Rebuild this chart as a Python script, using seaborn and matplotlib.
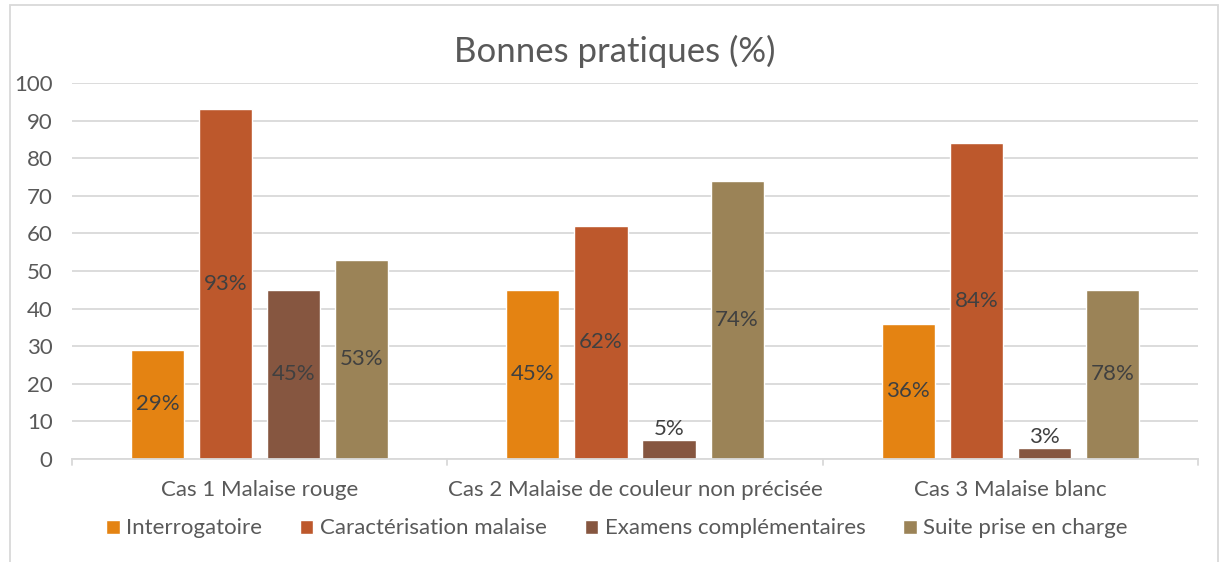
import matplotlib
matplotlib.use("Agg")
import matplotlib.pyplot as plt
import seaborn as sns
import pandas as pd
from matplotlib.patches import Rectangle

categories = ["Cas 1 Malaise rouge", "Cas 2 Malaise de couleur non précisée", "Cas 3 Malaise blanc"]
series = ["Interrogatoire", "Caractérisation malaise", "Examens complémentaires", "Suite prise en charge"]
interrogatoire = [29, 45, 36]
caracterisation = [93, 62, 84]
examens = [45, 5, 3]
suite = [53, 74, 45]
# data labels as printed on the chart
labels_interrogatoire = ["29%", "45%", "36%"]
labels_caracterisation = ["93%", "62%", "84%"]
labels_examens = ["45%", "5%", "3%"]
labels_suite = ["53%", "74%", "78%"]
yticks = [0, 10, 20, 30, 40, 50, 60, 70, 80, 90, 100]
title = "Bonnes pratiques (%)"

colors = ["#E48312", "#BD582C", "#865640", "#9B8357"]
values = [interrogatoire, caracterisation, examens, suite]
labels = [labels_interrogatoire, labels_caracterisation, labels_examens, labels_suite]

rows = []
for s, vals in zip(series, values):
    for c, v in zip(categories, vals):
        rows.append({"cas": c, "serie": s, "valeur": v})
df = pd.DataFrame(rows)

sns.set_theme(style="white")
FONT = ["Lato", "DejaVu Sans"]
plt.rcParams["font.family"] = FONT
FS = 16

fig = plt.figure(figsize=(12.21, 5.62), dpi=100)
ax = fig.add_axes([72 / 1221, 1 - 459 / 562, (1198 - 72) / 1221, (459 - 83) / 562])

sns.barplot(data=df, x="cas", y="valeur", hue="serie", hue_order=series, order=categories,
            palette=colors, width=0.725, gap=0.22, saturation=1, ax=ax, legend=True)

for cont, labs in zip(ax.containers, labels):
    for bar, lab in zip(cont, labs):
        h = bar.get_height()
        x = bar.get_x() + bar.get_width() / 2
        if h < 10:
            ax.text(x, h + 0.2, lab, ha="center", va="bottom", fontsize=FS, color="#404040")
        else:
            ax.text(x, h / 2, lab, ha="center", va="center", fontsize=FS, color="#404040")

ax.set_ylim(0, 100)
ax.set_xlim(-0.5, 2.5)
ax.set_yticks(yticks)
ax.set_yticklabels([str(t) for t in yticks])
ax.yaxis.grid(True, color="#D9D9D9", linewidth=1.3)
ax.set_axisbelow(True)
for sp in ["top", "right", "left"]:
    ax.spines[sp].set_visible(False)
ax.spines["bottom"].set_color("#D9D9D9")
ax.spines["bottom"].set_linewidth(1.3)
ax.set_xlabel("")
ax.set_ylabel("")
ax.tick_params(axis="y", length=0, labelsize=FS, labelcolor="#595959", pad=14)
ax.tick_params(axis="x", length=0, labelsize=FS, labelcolor="#595959", pad=15)
ax.set_xticks(range(len(categories)))
ax.set_xticklabels(categories)
# category boundary tick marks
for xb in [-0.5, 0.5, 1.5, 2.5]:
    ax.plot([xb, xb], [0, -1.6], color="#D9D9D9", linewidth=1.3, clip_on=False)

ax.set_title(title, fontsize=25, color="#595959", pad=15, x=0.482)

leg = ax.legend(loc="upper center", bbox_to_anchor=(0.484, -0.105), ncol=4, frameon=False,
                fontsize=FS, handlelength=0.6, handleheight=0.6, handletextpad=0.3,
                columnspacing=1.7)
for t in leg.get_texts():
    t.set_color("#595959")

fig.add_artist(Rectangle((10 / 1221, -0.05), (1218 - 10) / 1221, 1.05 - 5 / 562,
                         transform=fig.transFigure, fill=False, edgecolor="#D9D9D9", linewidth=1.3))

fig.savefig("out.png", dpi=100, facecolor="white")
